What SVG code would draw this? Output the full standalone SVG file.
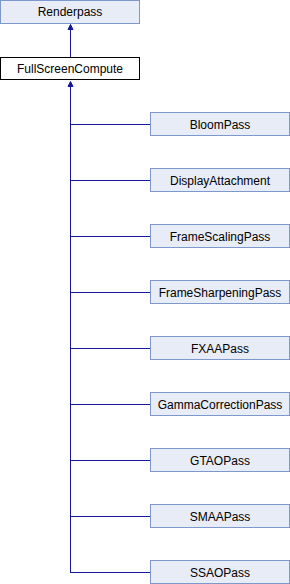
<svg xmlns="http://www.w3.org/2000/svg" width="290" height="584" viewBox="0 0 290 584">
<style>
.n rect{fill:#e8ecf6;stroke:#7c98cc;stroke-width:1}
.cur rect{fill:#fff;stroke:#000;stroke-width:1}
text{font-family:"Liberation Sans",Arial,sans-serif;font-size:12px;text-anchor:middle;fill:#000}
.e{stroke:#16169a;stroke-width:1;fill:none}
.a{fill:#16169a;stroke:#16169a;stroke-width:1}
</style>
<rect width="290" height="584" fill="#fff"/>
<g id="edges">
<path class="e" d="M70.5,57V28"/>
<path class="a" d="M68,29.5L70.5,24.5L73,29.5Z"/>
<path class="e" d="M70.5,572.5V85"/>
<path class="a" d="M68,86.5L70.5,81.5L73,86.5Z"/>
<path class="e" d="M70,124.5H150M70,180.5H150M70,236.5H150M70,292.5H150M70,348.5H150M70,404.5H150M70,460.5H150M70,516.5H150M70,572.5H150"/>
</g>
<g id="Renderpass" class="n"><rect x="0.5" y="0.5" width="139" height="23"/><text x="70" y="16">Renderpass</text></g>
<g id="FullScreenCompute" class="cur"><rect x="0.5" y="57.5" width="139" height="22"/><text x="70" y="72.5">FullScreenCompute</text></g>
<g id="BloomPass" class="n"><rect x="150.5" y="112.5" width="139" height="23"/><text x="220" y="128.5">BloomPass</text></g>
<g id="DisplayAttachment" class="n"><rect x="150.5" y="168.5" width="139" height="23"/><text x="220" y="184.5">DisplayAttachment</text></g>
<g id="FrameScalingPass" class="n"><rect x="150.5" y="224.5" width="139" height="23"/><text x="220" y="240.5">FrameScalingPass</text></g>
<g id="FrameSharpeningPass" class="n"><rect x="150.5" y="280.5" width="139" height="23"/><text x="220" y="296.5">FrameSharpeningPass</text></g>
<g id="FXAAPass" class="n"><rect x="150.5" y="336.5" width="139" height="23"/><text x="220" y="352.5">FXAAPass</text></g>
<g id="GammaCorrectionPass" class="n"><rect x="150.5" y="392.5" width="139" height="23"/><text x="220" y="408.5">GammaCorrectionPass</text></g>
<g id="GTAOPass" class="n"><rect x="150.5" y="448.5" width="139" height="23"/><text x="220" y="464.5">GTAOPass</text></g>
<g id="SMAAPass" class="n"><rect x="150.5" y="504.5" width="139" height="23"/><text x="220" y="520.5">SMAAPass</text></g>
<g id="SSAOPass" class="n"><rect x="150.5" y="560.5" width="139" height="23"/><text x="220" y="576.5">SSAOPass</text></g>
</svg>
